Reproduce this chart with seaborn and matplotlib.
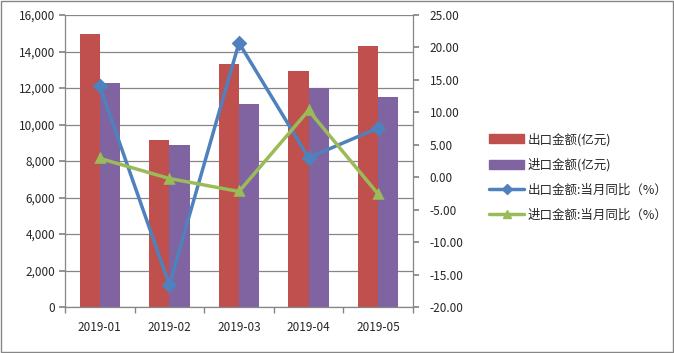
import numpy as np
import pandas as pd
import seaborn as sns
import matplotlib
matplotlib.use("Agg")
import matplotlib.pyplot as plt
from matplotlib.lines import Line2D
from matplotlib.patches import Patch, Rectangle
from matplotlib.ticker import FuncFormatter, MultipleLocator, FixedLocator

months = ["2019-01", "2019-02", "2019-03", "2019-04", "2019-05"]
export_amt = [14960, 9150, 13320, 12930, 14300]
import_amt = [12280, 8880, 11120, 12000, 11510]
export_yoy = [14.0, -16.6, 20.7, 3.0, 7.6]
import_yoy = [2.9, -0.2, -2.2, 10.3, -2.6]
bar_names = ["出口金额(亿元)", "进口金额(亿元)"]
line_names = ["出口金额:当月同比（%）", "进口金额:当月同比（%）"]
bar_colors = ["#C0504D", "#8064A2"]
line_colors = ["#4F81BD", "#9BBB59"]

sns.set_theme(style="white")
plt.rcParams["font.family"] = ["Noto Sans CJK SC", "DejaVu Sans"]

bars = pd.DataFrame({
    "month": months * 2,
    "value": export_amt + import_amt,
    "series": [bar_names[0]] * 5 + [bar_names[1]] * 5,
})
lines = pd.DataFrame({
    "month": months * 2,
    "value": export_yoy + import_yoy,
    "series": [line_names[0]] * 5 + [line_names[1]] * 5,
})

fig = plt.figure(figsize=(6.74, 3.53), dpi=100)
ax = fig.add_axes([65 / 674, 1 - 307 / 353, (413 - 65) / 674, (307 - 15) / 353])
sns.barplot(data=bars, x="month", y="value", hue="series", palette=bar_colors,
            width=0.58, gap=0, saturation=1, ax=ax, legend=False, zorder=2,
            linewidth=0, edgecolor="none")
ax.set_ylim(0, 16000)
ax.yaxis.set_major_locator(MultipleLocator(2000))
ax.yaxis.set_major_formatter(FuncFormatter(lambda v, p: f"{v:,.0f}"))
ax.grid(axis="y", color="#868686", linewidth=0.9, zorder=0)
ax.set_axisbelow(True)
ax.set_xlim(-0.5, 4.5)
ax.set_xlabel("")
ax.set_ylabel("")
ax.xaxis.set_minor_locator(FixedLocator(np.arange(-0.5, 5.0, 1.0)))
ax.tick_params(axis="x", which="major", length=0, pad=10, labelsize=8.5)
ax.tick_params(axis="x", which="minor", length=4, color="#868686", direction="out", bottom=True)
ax.tick_params(axis="y", length=4, color="#868686", direction="out", left=True, labelsize=8.5, pad=3)
for s in ["top", "right"]:
    ax.spines[s].set_visible(False)
for s in ["left", "bottom"]:
    ax.spines[s].set_color("#868686")
    ax.spines[s].set_linewidth(0.9)

ax2 = ax.twinx()
sns.pointplot(data=lines, x="month", y="value", hue="series", palette=line_colors,
              markers=["D", "^"], linestyles=["-", "-"], ax=ax2, legend=False,
              markersize=6, linewidth=2.5)
ax2.set_ylim(-20, 25)
ax2.set_xlim(-0.5, 4.5)
ax2.yaxis.set_major_locator(MultipleLocator(5))
ax2.yaxis.set_major_formatter(FuncFormatter(lambda v, p: f"{v:.2f}"))
ax2.set_ylabel("")
ax2.set_xlabel("")
ax2.tick_params(axis="y", length=4, color="#868686", direction="out", right=True, labelsize=8.5, pad=8)
for s in ["top", "left", "bottom"]:
    ax2.spines[s].set_visible(False)
ax2.spines["right"].set_color("#868686")
ax2.spines["right"].set_linewidth(0.9)

handles = [Patch(color=bar_colors[0]), Patch(color=bar_colors[1]),
           Line2D([], [], color=line_colors[0], marker="D", markersize=5, linewidth=2.5),
           Line2D([], [], color=line_colors[1], marker="^", markersize=6, linewidth=2.5)]
fig.legend(handles, bar_names + line_names, loc="center left",
           bbox_to_anchor=(478 / 674, 1 - 177 / 353), frameon=False, fontsize=9,
           handlelength=2.8, handleheight=0.7, labelspacing=0.95, handletextpad=0.3)

fig.patches.append(Rectangle((1 / 674, 1 / 353), 672 / 674, 351 / 353, transform=fig.transFigure,
                             fill=False, edgecolor="#868686", linewidth=1.0))
fig.savefig("out.png", dpi=100)
